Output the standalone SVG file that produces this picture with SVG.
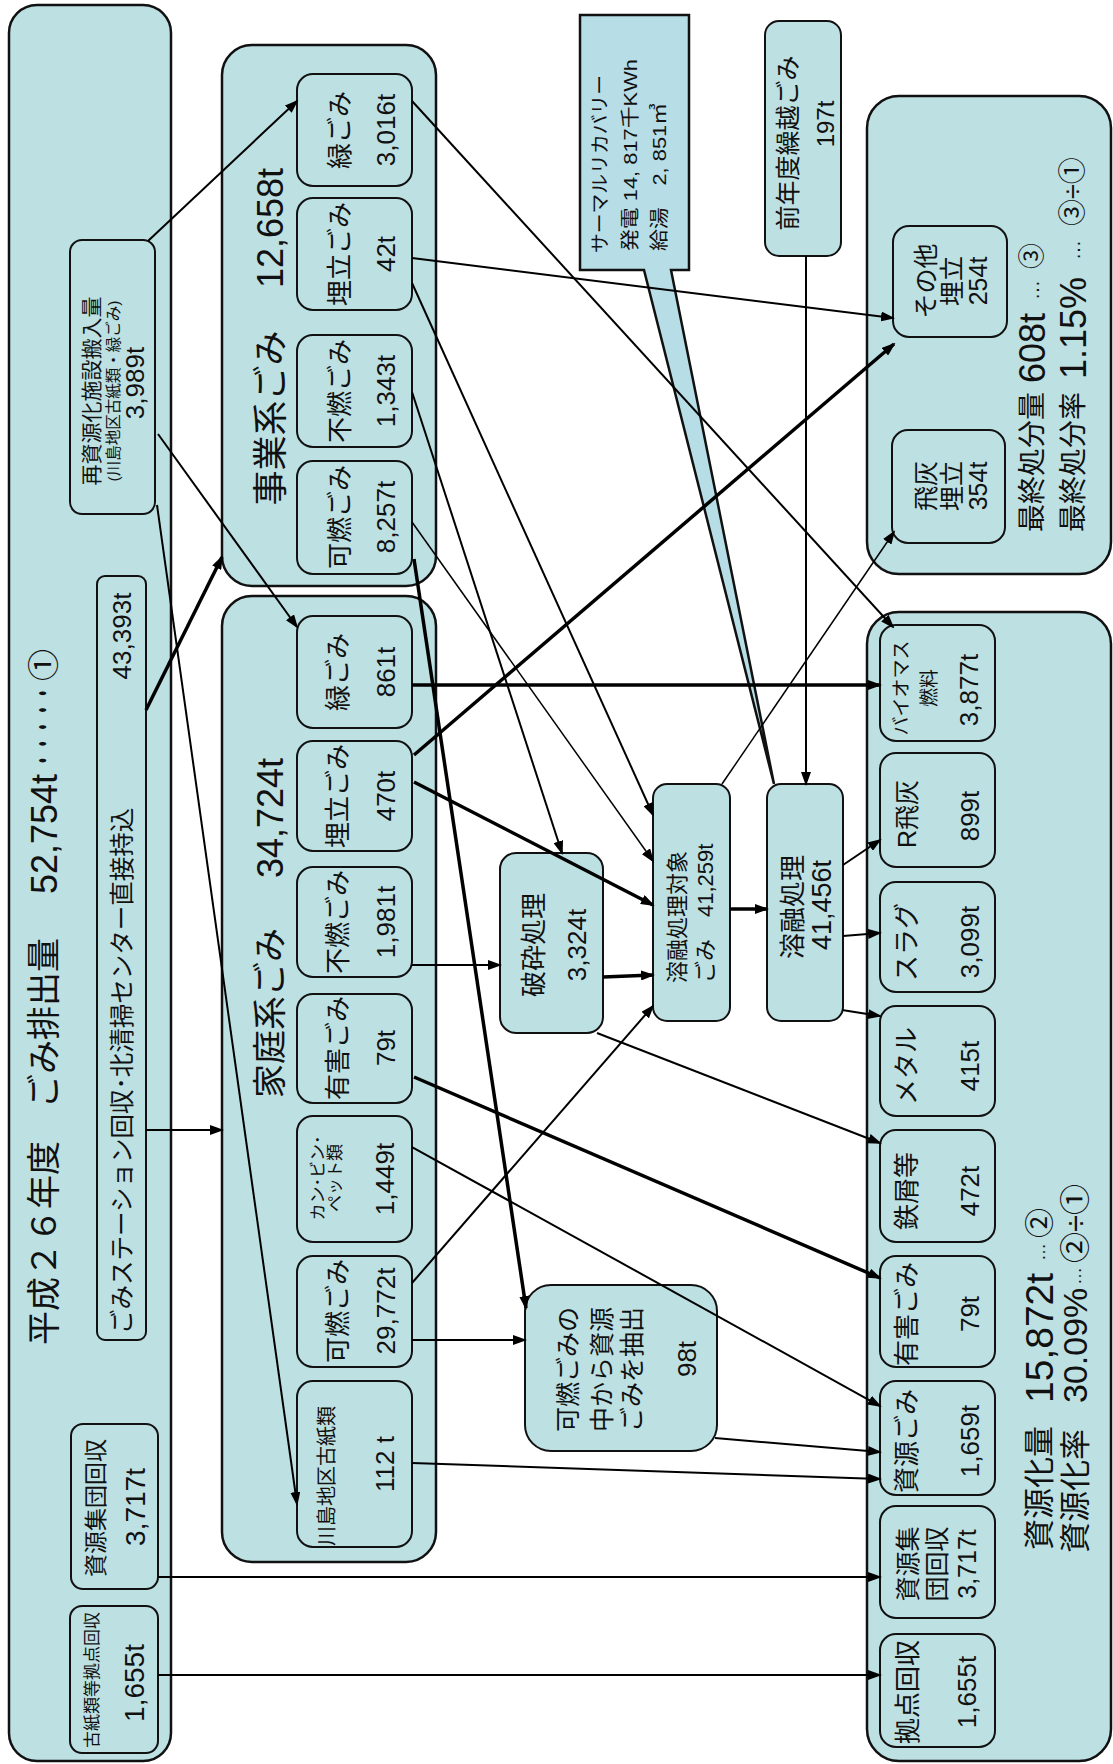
<svg xmlns="http://www.w3.org/2000/svg" width="1113" height="1764" viewBox="0 0 1113 1764">
<defs>
<style>
.b{fill:#bde0e3;stroke:#111;stroke-width:2}
.g{fill:#bde0e3;stroke:#111;stroke-width:2.5}
.cl{fill:#b7dde6;stroke:#111;stroke-width:2.5;stroke-linejoin:miter}
.t{font-family:"Liberation Sans","Noto Sans CJK JP",sans-serif;fill:#111;text-anchor:middle;dominant-baseline:central}
.s{text-anchor:start}
.l{stroke:#000;stroke-width:2;fill:none;marker-end:url(#ah)}
.k{stroke-width:3.5}
.n{stroke-width:1.5}
</style>
<marker id="ah" viewBox="0 0 14 10" refX="12" refY="5" markerWidth="14" markerHeight="10" markerUnits="userSpaceOnUse" orient="auto"><path d="M0,0 L14,5 L0,10 z" fill="#000"/></marker>
</defs>
<rect width="1113" height="1764" fill="#fff"/>

<g id="total">
<rect class="g" x="9" y="5" width="162" height="1756" rx="28"/>
<text class="t" font-size="34" transform="translate(44,1243) rotate(-90)">平成２６年度</text>
<text class="t" font-size="34" transform="translate(44,1023) rotate(-90)">ごみ排出量</text>
<text class="t" font-size="36" transform="translate(44,834) rotate(-90)">52,754t</text>
<text class="t" font-size="34" textLength="84" lengthAdjust="spacingAndGlyphs" transform="translate(44,727) rotate(-90)">・・・・・</text>
<text class="t" font-size="32" transform="translate(44,665) rotate(-90)">①</text>
</g>

<g id="station">
<rect class="b" x="97" y="576" width="49" height="764" rx="8"/>
<text class="t s" font-size="24.5" transform="translate(122,1334) rotate(-90)">ごみステーション回収･北清掃センター直接持込</text>
<text class="t" font-size="26" transform="translate(122,636) rotate(-90)">43,393t</text>
</g>

<g id="recycle-facility">
<rect class="b" x="70" y="240" width="85" height="274" rx="12"/>
<text class="t" font-size="21" transform="translate(91,391) rotate(-90)">再資源化施設搬入量</text>
<text class="t" font-size="15.5" transform="translate(113,391) rotate(-90)">(川島地区古紙類・緑ごみ)</text>
<text class="t" font-size="26" transform="translate(135,383) rotate(-90)">3,989t</text>
</g>

<g id="group-collection">
<rect class="b" x="71" y="1424" width="87" height="165" rx="12"/>
<text class="t" font-size="23" transform="translate(96,1508) rotate(-90)">資源集団回収</text>
<text class="t" font-size="28" transform="translate(135,1507) rotate(-90)">3,717t</text>
</g>

<g id="paper-point">
<rect class="b" x="70" y="1606" width="88" height="147" rx="12"/>
<text class="t" font-size="17" transform="translate(92,1680) rotate(-90)">古紙類等拠点回収</text>
<text class="t" font-size="28" transform="translate(134,1683) rotate(-90)">1,655t</text>
</g>

<g id="business">
<rect class="g" x="222" y="45" width="214" height="541" rx="30"/>
<text class="t" font-size="35" transform="translate(270,418) rotate(-90)">事業系ごみ</text>
<text class="t" font-size="36" transform="translate(270,228) rotate(-90)">12,658t</text>
</g>
<g id="biz-green">
<rect class="b" x="297" y="74" width="115" height="112" rx="16"/>
<text class="t" font-size="26" transform="translate(340,130) rotate(-90)">緑ごみ</text>
<text class="t" font-size="26" transform="translate(386,130) rotate(-90)">3,016t</text>
</g>
<g id="biz-landfill">
<rect class="b" x="297" y="198" width="115" height="112" rx="16"/>
<text class="t" font-size="26" transform="translate(340,254) rotate(-90)">埋立ごみ</text>
<text class="t" font-size="26" transform="translate(386,254) rotate(-90)">42t</text>
</g>
<g id="biz-noncomb">
<rect class="b" x="297" y="335" width="115" height="112" rx="16"/>
<text class="t" font-size="26" transform="translate(340,391) rotate(-90)">不燃ごみ</text>
<text class="t" font-size="26" transform="translate(386,391) rotate(-90)">1,343t</text>
</g>
<g id="biz-comb">
<rect class="b" x="297" y="461" width="115" height="113" rx="16"/>
<text class="t" font-size="26" transform="translate(340,517) rotate(-90)">可燃ごみ</text>
<text class="t" font-size="26" transform="translate(386,517) rotate(-90)">8,257t</text>
</g>

<g id="household">
<rect class="g" x="222" y="596" width="214" height="966" rx="30"/>
<text class="t" font-size="34" transform="translate(270,1013) rotate(-90)">家庭系ごみ</text>
<text class="t" font-size="36" transform="translate(270,818) rotate(-90)">34,724t</text>
</g>
<g id="hh-green">
<rect class="b" x="297" y="616" width="115" height="112" rx="16"/>
<text class="t" font-size="26" transform="translate(338,672) rotate(-90)">緑ごみ</text>
<text class="t" font-size="26" transform="translate(386,672) rotate(-90)">861t</text>
</g>
<g id="hh-landfill">
<rect class="b" x="297" y="741" width="115" height="110" rx="16"/>
<text class="t" font-size="26" transform="translate(338,796) rotate(-90)">埋立ごみ</text>
<text class="t" font-size="26" transform="translate(386,796) rotate(-90)">470t</text>
</g>
<g id="hh-noncomb">
<rect class="b" x="297" y="867" width="115" height="110" rx="16"/>
<text class="t" font-size="26" transform="translate(338,922) rotate(-90)">不燃ごみ</text>
<text class="t" font-size="26" transform="translate(386,922) rotate(-90)">1,981t</text>
</g>
<g id="hh-hazard">
<rect class="b" x="297" y="994" width="115" height="109" rx="16"/>
<text class="t" font-size="26" transform="translate(338,1048) rotate(-90)">有害ごみ</text>
<text class="t" font-size="26" transform="translate(386,1048) rotate(-90)">79t</text>
</g>
<g id="hh-cans">
<rect class="b" x="297" y="1116" width="115" height="126" rx="16"/>
<text class="t" font-size="17" transform="translate(318,1178) rotate(-90)">カン･ビン･</text>
<text class="t" font-size="17" transform="translate(335,1178) rotate(-90)">ペット類</text>
<text class="t" font-size="26" transform="translate(385,1179) rotate(-90)">1,449t</text>
</g>
<g id="hh-comb">
<rect class="b" x="297" y="1256" width="115" height="111" rx="16"/>
<text class="t" font-size="26" transform="translate(338,1311) rotate(-90)">可燃ごみ</text>
<text class="t" font-size="26" transform="translate(386,1311) rotate(-90)">29,772t</text>
</g>
<g id="hh-paper">
<rect class="b" x="297" y="1381" width="115" height="166" rx="16"/>
<text class="t" font-size="20" transform="translate(327,1476) rotate(-90)">川島地区古紙類</text>
<text class="t" font-size="26" transform="translate(385,1464) rotate(-90)">112 t</text>
</g>

<g id="crushing">
<rect class="b" x="500" y="853" width="103" height="180" rx="16"/>
<text class="t" font-size="26" transform="translate(534,945) rotate(-90)">破砕処理</text>
<text class="t" font-size="26" transform="translate(577,945) rotate(-90)">3,324t</text>
</g>

<g id="extract">
<rect class="b" x="525" y="1285" width="192" height="166" rx="26"/>
<text class="t s" font-size="25" transform="translate(568,1432) rotate(-90)">可燃ごみの</text>
<text class="t s" font-size="25" transform="translate(602,1432) rotate(-90)">中から資源</text>
<text class="t s" font-size="25" transform="translate(632,1432) rotate(-90)">ごみを抽出</text>
<text class="t" font-size="26" transform="translate(687,1359) rotate(-90)">98t</text>
</g>

<g id="melt-target">
<rect class="b" x="653" y="784" width="77" height="237" rx="14"/>
<text class="t s" font-size="22" transform="translate(677,983) rotate(-90)">溶融処理対象</text>
<text class="t s" font-size="22" transform="translate(705,983) rotate(-90)">ごみ　41,259t</text>
</g>

<g id="thermal">
<path class="cl" d="M580,15 L689,15 L689,270 L671,270 L774,784 L644,270 L580,270 Z"/>
<text class="t s" font-size="19" textLength="178" lengthAdjust="spacingAndGlyphs" transform="translate(600,253) rotate(-90)">サーマルリカバリー</text>
<text class="t s" font-size="19" textLength="192" lengthAdjust="spacingAndGlyphs" transform="translate(630,251) rotate(-90)">発電 14, 817千KWh</text>
<text class="t s" font-size="19" textLength="148" lengthAdjust="spacingAndGlyphs" transform="translate(659,251) rotate(-90)">給湯　2, 851㎥</text>
</g>

<g id="melting">
<rect class="b" x="767" y="784" width="76" height="237" rx="14"/>
<text class="t" font-size="26" transform="translate(793,907) rotate(-90)">溶融処理</text>
<text class="t" font-size="27" transform="translate(822,905) rotate(-90)">41,456t</text>
</g>

<g id="carryover">
<rect class="b" x="765" y="21" width="76" height="235" rx="14"/>
<text class="t" font-size="25" transform="translate(788,143) rotate(-90)">前年度繰越ごみ</text>
<text class="t" font-size="24" transform="translate(825,124) rotate(-90)">197t</text>
</g>

<g id="final-disposal">
<rect class="g" x="867" y="96" width="244" height="478" rx="32"/>
<text class="t s" font-size="28" transform="translate(1032,532) rotate(-90)">最終処分量</text>
<text class="t s" font-size="36" transform="translate(1032,383) rotate(-90)">608t</text>
<text class="t" font-size="20" transform="translate(1032,290) rotate(-90)">…</text>
<text class="t" font-size="26" transform="translate(1032,256) rotate(-90)">③</text>
<text class="t s" font-size="28" transform="translate(1073,532) rotate(-90)">最終処分率</text>
<text class="t s" font-size="36" transform="translate(1073,379) rotate(-90)">1.15%</text>
<text class="t" font-size="20" transform="translate(1073,250) rotate(-90)">…</text>
<text class="t s" font-size="27" transform="translate(1073,226) rotate(-90)">③÷①</text>
</g>
<g id="flyash-landfill">
<rect class="b" x="892" y="430" width="113" height="113" rx="16"/>
<text class="t" font-size="25" transform="translate(926,486) rotate(-90)">飛灰</text>
<text class="t" font-size="25" transform="translate(952,486) rotate(-90)">埋立</text>
<text class="t" font-size="25" transform="translate(978,486) rotate(-90)">354t</text>
</g>
<g id="other-landfill">
<rect class="b" x="893" y="226" width="114" height="111" rx="16"/>
<text class="t" font-size="25" transform="translate(926,281) rotate(-90)">その他</text>
<text class="t" font-size="25" transform="translate(952,281) rotate(-90)">埋立</text>
<text class="t" font-size="25" transform="translate(978,281) rotate(-90)">254t</text>
</g>

<g id="resources">
<rect class="g" x="867" y="612" width="244" height="1149" rx="32"/>
<text class="t s" font-size="31" transform="translate(1039,1550) rotate(-90)">資源化量</text>
<text class="t s" font-size="39" transform="translate(1039,1403) rotate(-90)">15,872t</text>
<text class="t" font-size="18" transform="translate(1039,1252) rotate(-90)">…</text>
<text class="t" font-size="30" transform="translate(1039,1223) rotate(-90)">②</text>
<text class="t s" font-size="31" transform="translate(1075,1553) rotate(-90)">資源化率</text>
<text class="t s" font-size="34" transform="translate(1075,1403) rotate(-90)">30.09%</text>
<text class="t" font-size="18" transform="translate(1075,1276) rotate(-90)">…</text>
<text class="t s" font-size="31" transform="translate(1075,1263) rotate(-90)">②÷①</text>
</g>
<g id="res-biomass">
<rect class="b" x="880" y="625" width="115" height="116" rx="16"/>
<text class="t" font-size="19" transform="translate(901,688) rotate(-90)">バイオマス</text>
<text class="t" font-size="19" transform="translate(929,688) rotate(-90)">燃料</text>
<text class="t" font-size="26" transform="translate(969,690) rotate(-90)">3,877t</text>
</g>
<g id="res-rflyash">
<rect class="b" x="880" y="753" width="115" height="114" rx="16"/>
<text class="t" font-size="25" transform="translate(907,814) rotate(-90)">R飛灰</text>
<text class="t" font-size="26" transform="translate(970,816) rotate(-90)">899t</text>
</g>
<g id="res-slag">
<rect class="b" x="880" y="882" width="115" height="110" rx="16"/>
<text class="t" font-size="26" transform="translate(907,942) rotate(-90)">スラグ</text>
<text class="t" font-size="26" transform="translate(970,942) rotate(-90)">3,099t</text>
</g>
<g id="res-metal">
<rect class="b" x="880" y="1006" width="115" height="110" rx="16"/>
<text class="t" font-size="26" transform="translate(907,1066) rotate(-90)">メタル</text>
<text class="t" font-size="26" transform="translate(970,1066) rotate(-90)">415t</text>
</g>
<g id="res-iron">
<rect class="b" x="880" y="1130" width="115" height="112" rx="16"/>
<text class="t" font-size="26" transform="translate(907,1191) rotate(-90)">鉄屑等</text>
<text class="t" font-size="26" transform="translate(970,1191) rotate(-90)">472t</text>
</g>
<g id="res-hazard">
<rect class="b" x="880" y="1256" width="115" height="111" rx="16"/>
<text class="t" font-size="26" transform="translate(907,1314) rotate(-90)">有害ごみ</text>
<text class="t" font-size="26" transform="translate(970,1314) rotate(-90)">79t</text>
</g>
<g id="res-recyclable">
<rect class="b" x="880" y="1381" width="115" height="114" rx="16"/>
<text class="t" font-size="26" transform="translate(907,1441) rotate(-90)">資源ごみ</text>
<text class="t" font-size="26" transform="translate(970,1441) rotate(-90)">1,659t</text>
</g>
<g id="res-group">
<rect class="b" x="880" y="1506" width="115" height="112" rx="16"/>
<text class="t" font-size="25" transform="translate(908,1564) rotate(-90)">資源集</text>
<text class="t" font-size="25" transform="translate(937,1564) rotate(-90)">団回収</text>
<text class="t" font-size="25" transform="translate(967,1564) rotate(-90)">3,717t</text>
</g>
<g id="res-point">
<rect class="b" x="880" y="1634" width="115" height="113" rx="16"/>
<text class="t" font-size="26" transform="translate(908,1692) rotate(-90)">拠点回収</text>
<text class="t" font-size="26" transform="translate(967,1692) rotate(-90)">1,655t</text>
</g>

<g id="connectors">
<line class="l" x1="148" y1="241" x2="297" y2="101"/>
<line class="l" x1="158" y1="434" x2="297" y2="627"/>
<line class="l" x1="157" y1="505" x2="297" y2="1504"/>
<line class="l k" x1="146" y1="710" x2="222" y2="557"/>
<line class="l" x1="146" y1="1130" x2="222" y2="1130"/>
<line class="l" x1="158" y1="1577" x2="880" y2="1577"/>
<line class="l" x1="158" y1="1675" x2="880" y2="1675"/>
<line class="l" x1="412" y1="1463" x2="880" y2="1479"/>
<line class="l" x1="715" y1="1438" x2="880" y2="1452"/>
<line class="l" x1="412" y1="1340" x2="525" y2="1340"/>
<line class="l" x1="412" y1="1283" x2="653" y2="1006"/>
<line class="l k" x1="414" y1="559" x2="526" y2="1308"/>
<line class="l n" x1="412" y1="522" x2="653" y2="861"/>
<line class="l" x1="412" y1="392" x2="562" y2="853"/>
<line class="l" x1="412" y1="283" x2="653" y2="815"/>
<line class="l k" x1="414" y1="782" x2="653" y2="905"/>
<line class="l" x1="412" y1="258" x2="893" y2="318"/>
<line class="l" x1="412" y1="101" x2="893" y2="627"/>
<line class="l k" x1="412" y1="685" x2="880" y2="685"/>
<line class="l k" x1="414" y1="755" x2="894" y2="344"/>
<line class="l" x1="412" y1="965" x2="500" y2="965"/>
<line class="l k" x1="414" y1="1077" x2="880" y2="1278"/>
<line class="l" x1="412" y1="1147" x2="880" y2="1406"/>
<line class="l" x1="597" y1="1033" x2="880" y2="1143"/>
<line class="l k" x1="730" y1="909" x2="767" y2="909"/>
<line class="l k" x1="603" y1="977" x2="653" y2="975"/>
<line class="l n" x1="722" y1="784" x2="894" y2="532"/>
<line class="l" x1="806" y1="256" x2="806" y2="784"/>
<line class="l" x1="843" y1="865" x2="880" y2="840"/>
<line class="l" x1="843" y1="936" x2="880" y2="933"/>
<line class="l" x1="842" y1="1010" x2="880" y2="1016"/>
</g>
</svg>
